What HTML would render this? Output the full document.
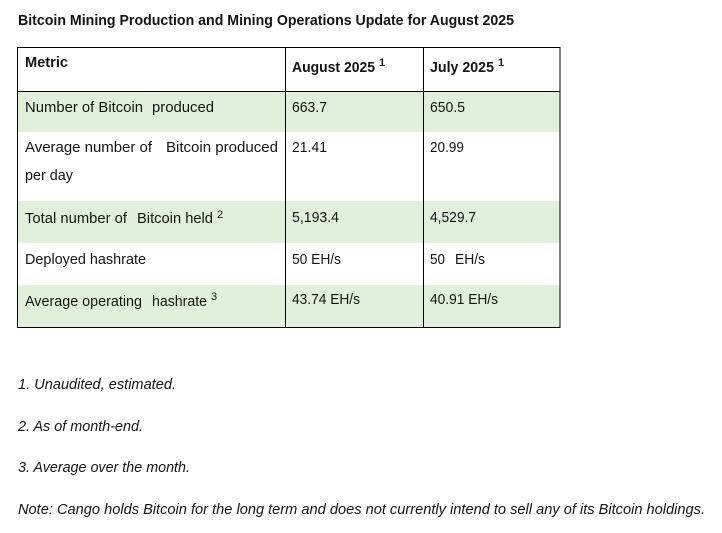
<!DOCTYPE html>
<html>
<head>
<meta charset="utf-8">
<style>
html,body{margin:0;padding:0;background:#fff;}
svg{display:block;}
text{font-family:"Liberation Sans",sans-serif;fill:#141414;font-size:15px;}
.b{font-weight:bold;}
.i{font-style:italic;}
.s{font-size:11px;}
</style>
</head>
<body>
<svg width="722" height="533" viewBox="0 0 722 533" xmlns="http://www.w3.org/2000/svg">
<rect x="0" y="0" width="722" height="533" fill="#fff"/>
<text class="b" x="18" y="25" textLength="496" lengthAdjust="spacingAndGlyphs">Bitcoin Mining Production and Mining Operations Update for August 2025</text>

<!-- row fills -->
<rect x="18" y="92" width="542" height="40" fill="#e2efda"/>
<rect x="18" y="201" width="542" height="42" fill="#e2efda"/>
<rect x="18" y="285" width="542" height="42" fill="#e2efda"/>

<!-- borders -->
<g stroke="#000" stroke-width="1" fill="none">
<rect x="17.5" y="47.5" width="542.5" height="280"/>
<line x1="17.5" y1="91.5" x2="560" y2="91.5"/>
<line x1="285.5" y1="47.5" x2="285.5" y2="327.5"/>
<line x1="423.5" y1="47.5" x2="423.5" y2="327.5"/>
</g>

<!-- header -->
<text class="b" x="25" y="67" textLength="43" lengthAdjust="spacingAndGlyphs">Metric</text>
<text class="b" x="292" y="72" textLength="83" lengthAdjust="spacingAndGlyphs">August 2025</text>
<text class="b s" x="379" y="66">1</text>
<text class="b" x="430" y="72" textLength="64" lengthAdjust="spacingAndGlyphs">July 2025</text>
<text class="b s" x="498" y="66">1</text>

<!-- row1 -->
<text x="25" y="112" textLength="118" lengthAdjust="spacingAndGlyphs">Number of Bitcoin</text>
<text x="152" y="112" textLength="62" lengthAdjust="spacingAndGlyphs">produced</text>
<text x="292" y="112" textLength="35" lengthAdjust="spacingAndGlyphs">663.7</text>
<text x="430" y="112" textLength="35" lengthAdjust="spacingAndGlyphs">650.5</text>

<!-- row2 -->
<text x="25" y="152" textLength="127" lengthAdjust="spacingAndGlyphs">Average number of</text>
<text x="166" y="152" textLength="112" lengthAdjust="spacingAndGlyphs">Bitcoin produced</text>
<text x="25" y="180" textLength="48" lengthAdjust="spacingAndGlyphs">per day</text>
<text x="292" y="152" textLength="35" lengthAdjust="spacingAndGlyphs">21.41</text>
<text x="430" y="152" textLength="34" lengthAdjust="spacingAndGlyphs">20.99</text>

<!-- row3 -->
<text x="25" y="223" textLength="102" lengthAdjust="spacingAndGlyphs">Total number of</text>
<text x="137" y="223" textLength="76" lengthAdjust="spacingAndGlyphs">Bitcoin held</text>
<text class="s" x="217" y="218">2</text>
<text x="292" y="222" textLength="47" lengthAdjust="spacingAndGlyphs">5,193.4</text>
<text x="430" y="222" textLength="46" lengthAdjust="spacingAndGlyphs">4,529.7</text>

<!-- row4 -->
<text x="25" y="264" textLength="121" lengthAdjust="spacingAndGlyphs">Deployed hashrate</text>
<text x="292" y="264" textLength="49" lengthAdjust="spacingAndGlyphs">50 EH/s</text>
<text x="430" y="264" textLength="15" lengthAdjust="spacingAndGlyphs">50</text>
<text x="455" y="264" textLength="30" lengthAdjust="spacingAndGlyphs">EH/s</text>

<!-- row5 -->
<text x="25" y="306" textLength="117" lengthAdjust="spacingAndGlyphs">Average operating</text>
<text x="152" y="306" textLength="55" lengthAdjust="spacingAndGlyphs">hashrate</text>
<text class="s" x="211" y="300">3</text>
<text x="292" y="304" textLength="68" lengthAdjust="spacingAndGlyphs">43.74 EH/s</text>
<text x="430" y="304" textLength="68" lengthAdjust="spacingAndGlyphs">40.91 EH/s</text>

<!-- footnotes -->
<text class="i" x="18" y="389" textLength="158" lengthAdjust="spacingAndGlyphs">1. Unaudited, estimated.</text>
<text class="i" x="18" y="431" textLength="125" lengthAdjust="spacingAndGlyphs">2. As of month-end.</text>
<text class="i" x="18" y="472" textLength="172" lengthAdjust="spacingAndGlyphs">3. Average over the month.</text>
<text class="i" x="18" y="514" textLength="687" lengthAdjust="spacingAndGlyphs">Note: Cango holds Bitcoin for the long term and does not currently intend to sell any of its Bitcoin holdings.</text>
</svg>
</body>
</html>
